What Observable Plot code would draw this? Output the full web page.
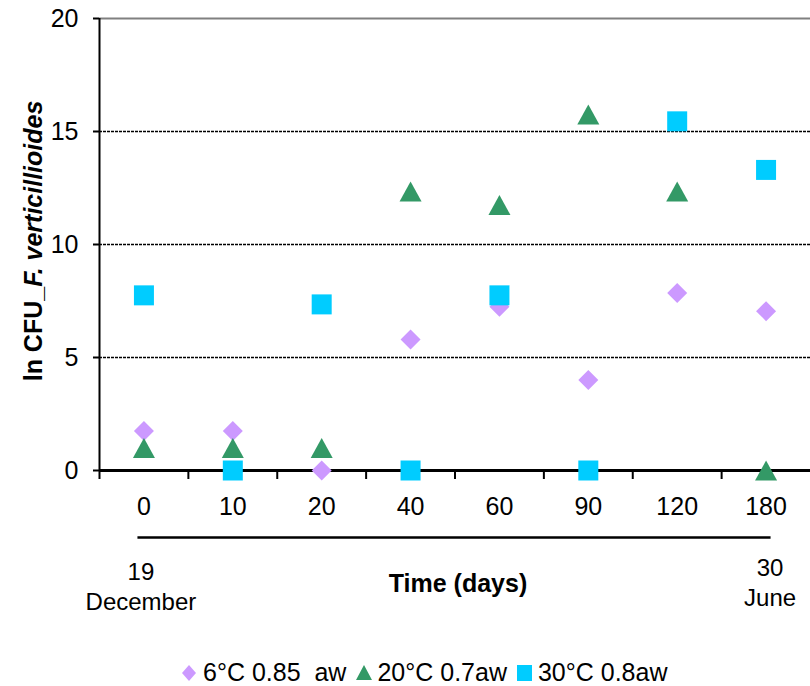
<!DOCTYPE html>
<html>
<head>
<meta charset="utf-8">
<script src="https://cdn.jsdelivr.net/npm/d3@7"></script>
<script src="https://cdn.jsdelivr.net/npm/@observablehq/plot@0.6"></script>
<style>
  html, body { margin: 0; padding: 0; background: #fff; }
  #wrap { position: relative; width: 810px; height: 686px; font-family: 'Liberation Sans', Arial, sans-serif; }
  #legend { position: absolute; left: 182px; top: 658px; display: flex; align-items: center; font-size: 25px; color: #000; white-space: pre; }
  #legend .item { display: flex; align-items: center; margin-right: 10px; }
  #legend svg { margin-right: 5px; }
</style>
</head>
<body>
<div id="wrap"></div>
<script>
// ---- data ----
const days = ["0", "10", "20", "40", "60", "90", "120", "180"];
const seriesNames = ["6°C 0.85  aw", "20°C 0.7aw", "30°C 0.8aw"];
const seriesColors = ["#CC99FF", "#339966", "#00CCFF"];
const diamond6C = [1.75, 1.75, 0, 5.8, 7.25, 4.0, 7.85, 7.05];
const triangle20C = [1.0, 1.0, 1.0, 12.35, 11.75, 15.75, 12.35, 0];
const square30C = [7.75, 0, 7.35, 0, 7.75, 0, 15.45, 13.3];
const yTicks = [0, 5, 10, 15, 20];
const gridValues = [5, 10, 15];
const yTop = 20;
const startDate = "19\nDecember";
const endDate = "30\nJune";
const xTitle = "Time (days)";
const yTitlePlain = "ln CFU_";
const yTitleItalic = "F. verticillioides";

// ---- symbols (Excel-like markers) ----
const diamondSym = { draw(c) { c.moveTo(0, -10); c.lineTo(10, 0); c.lineTo(0, 10); c.lineTo(-10, 0); c.closePath(); } };
const triangleSym = { draw(c) { c.moveTo(0, -10); c.lineTo(11, 10); c.lineTo(-11, 10); c.closePath(); } };
const squareSym = { draw(c) { c.rect(-10, -10, 20, 20); } };

const pos = i => i + 0.5;
const rowsOf = arr => days.map((d, i) => ({ i, day: d, v: arr[i] }));
const centers = days.map((d, i) => pos(i));
const boundaries = days.map((d, i) => i);

const chart = Plot.plot({
  width: 810,
  height: 640,
  marginLeft: 99,
  marginRight: 0,
  marginTop: 18,
  marginBottom: 170,
  style: { fontFamily: "'Liberation Sans', Arial, sans-serif", fontSize: "24px", color: "#000", background: "#fff", overflow: "visible" },
  x: { domain: [0, days.length] },
  y: { domain: [0, yTop] },
  marks: [
    Plot.ruleY(gridValues, { stroke: "#000", strokeWidth: 1.5, strokeDasharray: "3,1" }),
    Plot.ruleY([yTop], { stroke: "#808080", strokeWidth: 2 }),
    Plot.axisY({ ticks: yTicks, tickSize: 6, tickPadding: 15, strokeWidth: 2, fontSize: 25, label: null }),
    Plot.ruleX([0], { stroke: "#000", strokeWidth: 2 }),
    Plot.axisX({ ticks: boundaries, tickSize: 9, tickFormat: () => "", strokeWidth: 2, label: null }),
    Plot.axisX({ ticks: centers, tickSize: 0, tickPadding: 27, tickFormat: d => days[Math.floor(d)], fontSize: 25, label: null }),
    Plot.ruleY([0], { stroke: "#000", strokeWidth: 3 }),
    Plot.ruleY([0], { x1: pos(0), x2: pos(days.length - 1), dy: 67, insetLeft: -6, insetRight: -5, stroke: "#000", strokeWidth: 2.5 }),
    Plot.text([startDate], { x: pos(0), frameAnchor: "bottom", dy: 139, dx: -3, lineHeight: 1.25, fontSize: 24 }),
    Plot.text([endDate], { x: pos(days.length - 1), frameAnchor: "bottom", dy: 135, dx: 4, lineHeight: 1.25, fontSize: 24 }),
    Plot.text([xTitle], { frameAnchor: "bottom", dy: 121, dx: 3, fontWeight: "bold", fontSize: 25 }),
    Plot.dot(rowsOf(diamond6C), { x: d => pos(d.i), y: "v", symbol: diamondSym, fill: seriesColors[0] }),
    Plot.dot(rowsOf(triangle20C), { x: d => pos(d.i), y: "v", symbol: triangleSym, fill: seriesColors[1] }),
    Plot.dot(rowsOf(square30C), { x: d => pos(d.i), y: "v", symbol: squareSym, fill: seriesColors[2] })
  ]
});

const wrap = document.getElementById("wrap");
wrap.appendChild(chart);

// y-axis title with mixed italic
const svg = d3.select(chart);
const t = svg.append("text")
  .attr("transform", "translate(33,241) rotate(-90)")
  .attr("text-anchor", "middle")
  .attr("dominant-baseline", "central")
  .attr("font-weight", "bold")
  .attr("font-size", 25)
  .attr("fill", "#000");
t.append("tspan").text(yTitlePlain);
t.append("tspan").attr("font-style", "italic").text(yTitleItalic);

// legend
const legendShapes = [
  '<polygon points="7,0 14,8 7,16 0,8"/>',
  '<polygon points="8,0 16,15 0,15"/>',
  '<rect x="0" y="0" width="15" height="16"/>'
];
const legend = document.createElement("div");
legend.id = "legend";
seriesNames.forEach((name, k) => {
  const item = document.createElement("div");
  item.className = "item";
  item.innerHTML = `<svg width="16" height="16" fill="${seriesColors[k]}">${legendShapes[k]}</svg><span>${name}</span>`;
  legend.appendChild(item);
});
wrap.appendChild(legend);
</script>
</body>
</html>
